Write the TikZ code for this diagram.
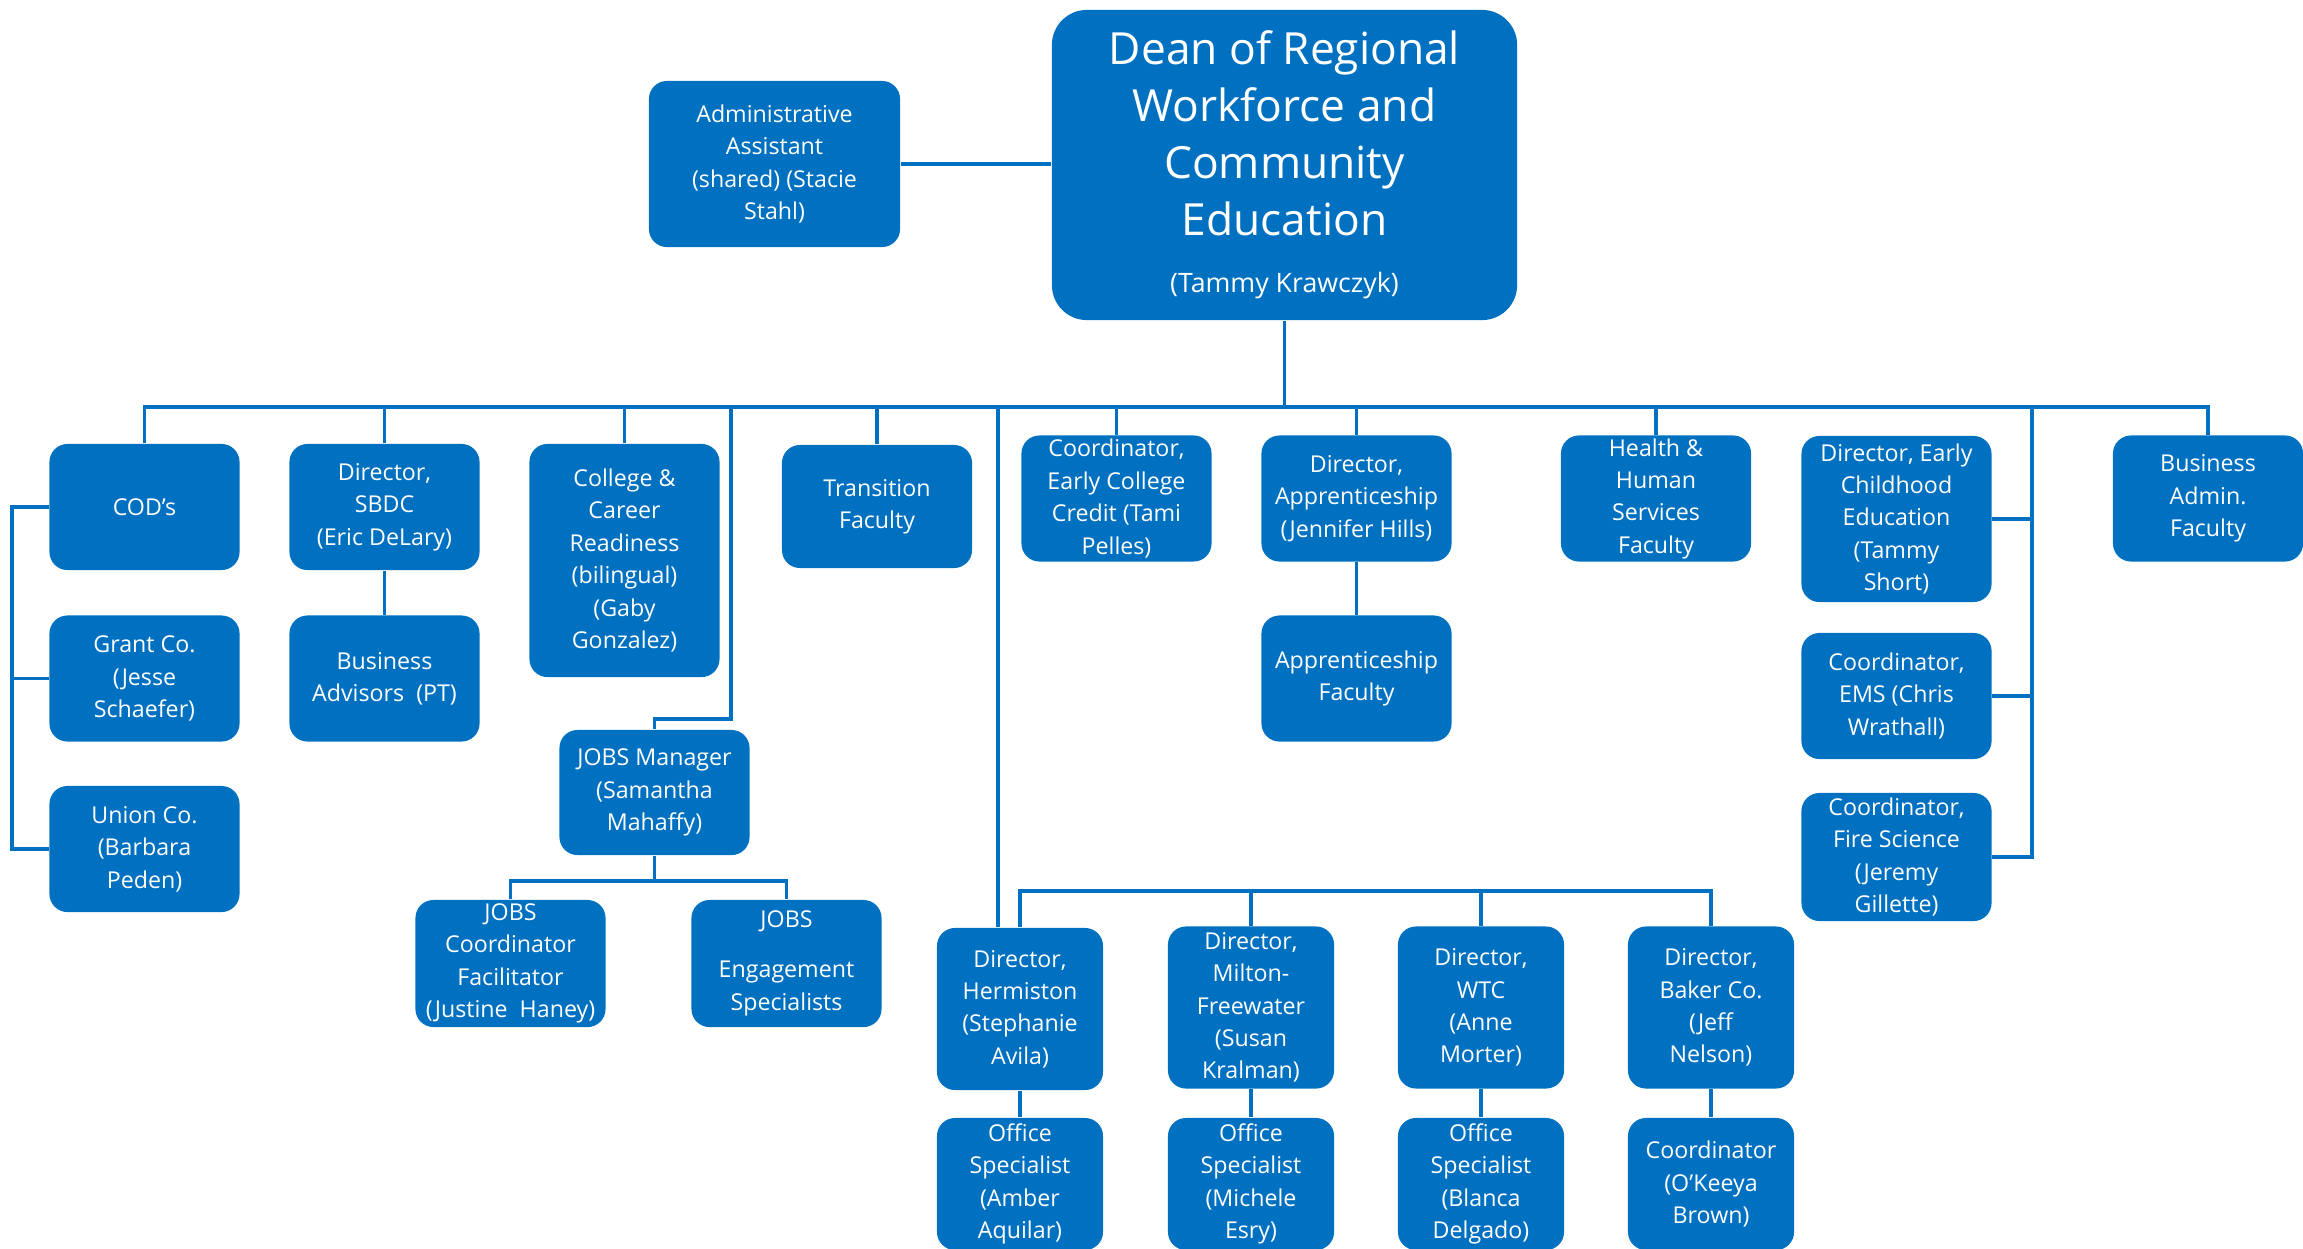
\documentclass[tikz,border=0pt]{standalone}
\usepackage{fontspec}
\setmainfont{Open Sans}
\usetikzlibrary{calc}
\definecolor{orgblue}{HTML}{0070C0}

\begin{document}
\begin{tikzpicture}[
  x=0.01cm,y=-0.01cm,
  box/.style={rectangle,rounded corners=0.18cm,fill=orgblue,text=white,align=center,inner sep=0pt,
    minimum width=1.9cm,minimum height=1.26cm,font=\fontsize{6.6}{9.2}\selectfont},
  tall/.style={minimum height=#1cm},
  city/.style={box,minimum width=1.66cm,minimum height=1.62cm},
  link/.style={draw=orgblue,line width=1.1pt}
]

\useasboundingbox (0,0) rectangle (2303,1248);

\node[box,rounded corners=0.35cm,minimum width=4.65cm,minimum height=3.1cm,
  font=\fontsize{12.6}{16.2}\selectfont] (dean) at (1284.5,165)
  {Dean of Regional\\Workforce and\\Community\\Education\\[0pt]{\fontsize{7.6}{9}\selectfont (Tammy Krawczyk)}};
\node[box,minimum width=2.51cm,minimum height=1.66cm] (admin) at (774.5,164) {Administrative\\Assistant\\(shared) (Stacie\\Stahl)};

\node[box] (cods) at (144.5,507) {COD's};
\node[box] (sbdc) at (384.5,507) {Director,\\SBDC\\(Eric DeLary)};
\node[box,tall=2.33] (ccr) at (624.5,560.5) {College \&\\Career\\Readiness\\(bilingual)\\(Gaby\\Gonzalez)};
\node[box,tall=1.23] (trans) at (877,506.5) {Transition\\Faculty};
\node[box] (ecc) at (1116.5,498.5) {Coordinator,\\Early College\\Credit (Tami\\Pelles)};
\node[box] (appr) at (1356.5,498.5) {Director,\\Apprenticeship\\(Jennifer Hills)};
\node[box] (hhs) at (1656,498.5) {Health \&\\Human\\Services\\Faculty};
\node[box,tall=1.66] (ece) at (1896.5,519) {Director, Early\\Childhood\\Education\\(Tammy\\Short)};
\node[box] (busadm) at (2208,498.5) {Business\\Admin.\\Faculty};

\node[box] (grant) at (144.5,678.5) {Grant Co.\\(Jesse\\Schaefer)};
\node[box] (union) at (144.5,849) {Union Co.\\(Barbara\\Peden)};
\node[box] (advis) at (384.5,678.5) {Business\\Advisors~~(PT)};
\node[box] (apfac) at (1356.5,678.5) {Apprenticeship\\Faculty};
\node[box] (ems) at (1896.5,696) {Coordinator,\\EMS (Chris\\Wrathall)};
\node[box,tall=1.28] (fire) at (1896.5,857) {Coordinator,\\Fire Science\\(Jeremy\\Gillette)};

\node[box,tall=1.25] (jobsm) at (654.5,792.5) {JOBS Manager\\(Samantha\\Mahaffy)};
\node[box,tall=1.27] (jobsc) at (510.5,963.5) {JOBS\\Coordinator\\Facilitator\\(Justine~~Haney)};
\node[box,tall=1.27] (jobse) at (786.5,963.5) {JOBS\\[5pt]Engagement\\Specialists};

\node[city] (herm) at (1020,1009) {Director,\\Hermiston\\(Stephanie\\Avila)};
\node[city] (milt) at (1251,1007.5) {Director,\\Milton-\\Freewater\\(Susan\\Kralman)};
\node[city] (wtc) at (1481,1007.5) {Director,\\WTC\\(Anne\\Morter)};
\node[city] (baker) at (1711,1007.5) {Director,\\Baker Co.\\(Jeff\\Nelson)};

\node[city,tall=1.32] (offh) at (1020,1184) {Office\\Specialist\\(Amber\\Aquilar)};
\node[city,tall=1.32] (offm) at (1251,1184) {Office\\Specialist\\(Michele\\Esry)};
\node[city,tall=1.32] (offw) at (1481,1184) {Office\\Specialist\\(Blanca\\Delgado)};
\node[city,tall=1.32] (coordbk) at (1711,1184) {Coordinator\\(O'Keeya\\Brown)};

\coordinate (bus) at (1284.5,407);
\coordinate (jobsdrop) at (731,407);
\coordinate (citydrop) at (998,407);
\coordinate (citybus) at (1020,891);
\coordinate (ecedrop) at (2032,407);

\draw[link] (admin.east) -- (admin.east -| dean.west);
\draw[link] (dean.south) -- (bus);
\draw[link] (cods.north) |- (busadm.north |- bus) -- (busadm.north);
\foreach \n in {sbdc,ccr,trans,ecc,appr,hhs}
  \draw[link] (\n.north) -- (\n.north |- bus);

\draw[link] (cods.west) -- ++(-37,0) |- (union.west);
\draw[link] (grant.west) -- ++(-37,0);
\draw[link] (sbdc.south) -- (advis.north);
\draw[link] (appr.south) -- (apfac.north);

\draw[link] (jobsdrop) -- ++(0,312) -| (jobsm.north);
\draw[link] (jobsm.south) -- ++(0,25) coordinate (jobsbus);
\draw[link] (jobsc.north) |- (jobsbus) -| (jobse.north);

\draw[link] (citydrop) -- (citydrop |- herm.north);
\draw[link] (herm.north) |- (baker.north |- citybus) -- (baker.north);
\foreach \n in {milt,wtc}
  \draw[link] (\n.north) -- (\n.north |- citybus);
\foreach \d/\o in {herm/offh,milt/offm,wtc/offw,baker/coordbk}
  \draw[link] (\d.south) -- (\o.north);

\draw[link] (ecedrop) |- (fire.east);
\foreach \n in {ece,ems}
  \draw[link] (\n.east) -- (\n.east -| ecedrop);

\end{tikzpicture}
\end{document}
